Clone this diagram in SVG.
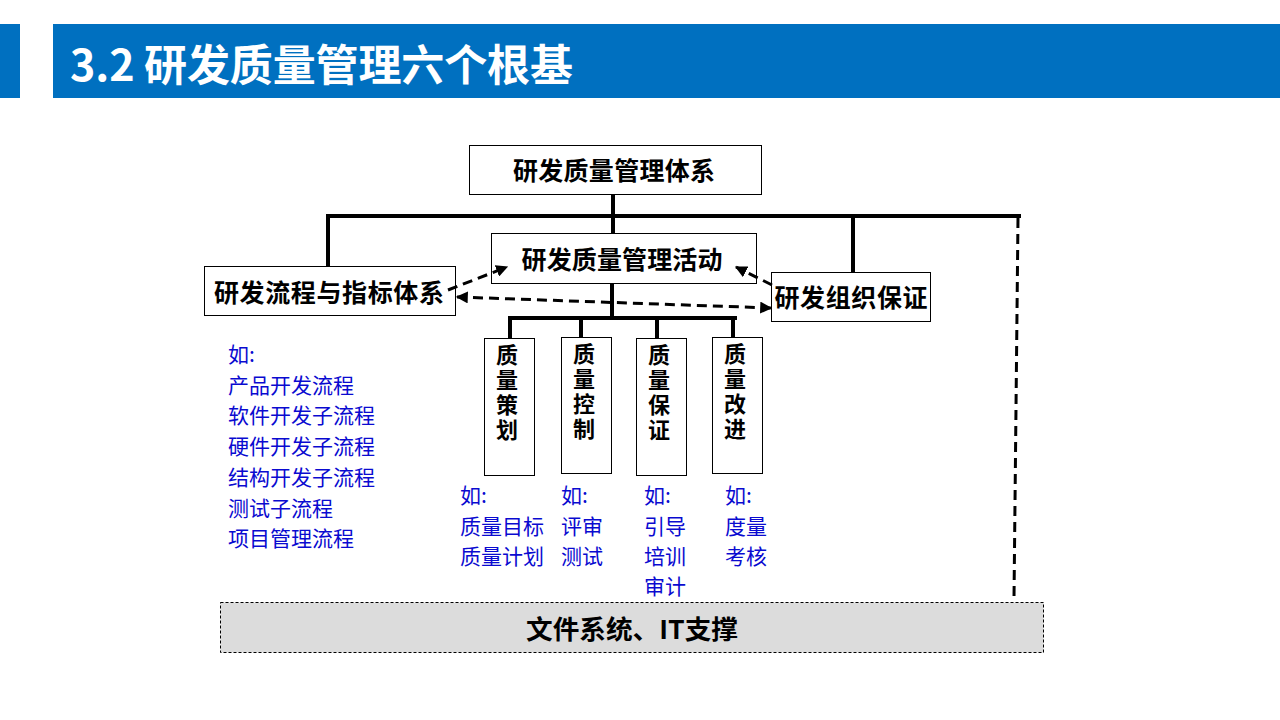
<svg xmlns="http://www.w3.org/2000/svg" width="1280" height="720" viewBox="0 0 1280 720">
<defs>
<marker id="ah" viewBox="0 0 10 10" refX="9" refY="5" markerWidth="4" markerHeight="4" orient="auto-start-reverse" markerUnits="strokeWidth">
<path d="M0,0 L10,5 L0,10 z" fill="#000"/>
</marker>
<style>
.box{fill:#fff;stroke:#000;stroke-width:1}
.bt{font-family:"Noto Sans CJK SC","Noto Sans",sans-serif;font-weight:bold;fill:#000;text-anchor:middle;dominant-baseline:central}
.vt{font-family:"Noto Sans CJK SC","Noto Sans",sans-serif;font-weight:bold;fill:#000;font-size:22px;writing-mode:vertical-rl;letter-spacing:3px}
.blue{font-family:"Noto Sans CJK SC","Noto Sans",sans-serif;fill:#0a0ad0;font-size:21px;dominant-baseline:central}
.ln{stroke:#000;stroke-width:4;fill:none}
.dl{stroke:#000;stroke-width:3;fill:none;stroke-dasharray:10 6}
</style>
</defs>
<rect width="1280" height="720" fill="#fff"/>
<g id="header">
<rect x="0" y="24" width="20" height="74" fill="#0070C0"/>
<rect x="53" y="24" width="1227" height="74" fill="#0070C0"/>
<text x="70" y="62" font-family="'Noto Sans CJK SC','Noto Sans',sans-serif" font-weight="bold" font-size="43" fill="#fff" dominant-baseline="central" textLength="503" lengthAdjust="spacing">3.2 研发质量管理六个根基</text>
</g>
<g id="node-system">
<rect class="box" x="469.5" y="145.5" width="292" height="49"/>
<text class="bt" x="614" y="169" font-size="25" textLength="202" lengthAdjust="spacing">研发质量管理体系</text>
</g>
<g id="node-activity">
<rect class="box" x="491.5" y="233.5" width="265" height="50"/>
<text class="bt" x="622" y="258" font-size="25" textLength="201" lengthAdjust="spacing">研发质量管理活动</text>
</g>
<g id="node-process">
<rect class="box" x="204.5" y="266.5" width="251" height="49"/>
<text class="bt" x="329" y="291" font-size="25" textLength="230" lengthAdjust="spacing">研发流程与指标体系</text>
</g>
<g id="node-org">
<rect class="box" x="771.5" y="272.5" width="159" height="49"/>
<text class="bt" x="851" y="296" font-size="25" textLength="153" lengthAdjust="spacing">研发组织保证</text>
</g>
<g id="node-plan">
<rect class="box" x="484.5" y="338.5" width="50" height="137"/>
<text class="vt" x="507" y="344">质量策划</text>
</g>
<g id="node-control">
<rect class="box" x="561.5" y="337.5" width="50" height="136"/>
<text class="vt" x="584" y="343">质量控制</text>
</g>
<g id="node-assure">
<rect class="box" x="636.5" y="338.5" width="50" height="137"/>
<text class="vt" x="659" y="344">质量保证</text>
</g>
<g id="node-improve">
<rect class="box" x="712.5" y="337.5" width="50" height="136"/>
<text class="vt" x="735" y="343">质量改进</text>
</g>
<g id="notes-process">
<text class="blue"><tspan x="228" y="353">如:</tspan><tspan x="228" y="384">产品开发流程</tspan><tspan x="228" y="414">软件开发子流程</tspan><tspan x="228" y="445">硬件开发子流程</tspan><tspan x="228" y="476">结构开发子流程</tspan><tspan x="228" y="507">测试子流程</tspan><tspan x="228" y="537">项目管理流程</tspan></text>
</g>
<g id="notes-plan">
<text class="blue"><tspan x="460" y="494">如:</tspan><tspan x="460" y="525">质量目标</tspan><tspan x="460" y="555">质量计划</tspan></text>
</g>
<g id="notes-control">
<text class="blue"><tspan x="561" y="494">如:</tspan><tspan x="561" y="525">评审</tspan><tspan x="561" y="555">测试</tspan></text>
</g>
<g id="notes-assure">
<text class="blue"><tspan x="644" y="494">如:</tspan><tspan x="644" y="525">引导</tspan><tspan x="644" y="555">培训</tspan><tspan x="644" y="585">审计</tspan></text>
</g>
<g id="notes-improve">
<text class="blue"><tspan x="725" y="494">如:</tspan><tspan x="725" y="525">度量</tspan><tspan x="725" y="555">考核</tspan></text>
</g>
<g id="node-it">
<rect x="220.5" y="602.5" width="823" height="50" fill="#DCDCDC" stroke="#000" stroke-width="1" stroke-dasharray="3 2"/>
<text class="bt" x="632" y="627" font-size="26" textLength="212" lengthAdjust="spacingAndGlyphs">文件系统、IT支撑</text>
</g>
<g id="connectors">
<line class="ln" x1="613" y1="194" x2="613" y2="233"/>
<line class="ln" x1="326" y1="216" x2="1021" y2="216"/>
<line class="ln" x1="328" y1="216" x2="328" y2="266"/>
<line class="ln" x1="853" y1="216" x2="853" y2="272"/>
<line class="dl" x1="1018" y1="218" x2="1014" y2="598" stroke-width="3.5" stroke-dasharray="18 11"/>
<line class="ln" x1="612" y1="283" x2="612" y2="320"/>
<line class="ln" x1="508" y1="318" x2="737" y2="318"/>
<line class="ln" x1="510" y1="318" x2="510" y2="338"/>
<line class="ln" x1="581" y1="318" x2="581" y2="337"/>
<line class="ln" x1="657" y1="318" x2="657" y2="338"/>
<line class="ln" x1="733" y1="318" x2="733" y2="337"/>
<line class="dl" x1="448" y1="290" x2="507" y2="267" marker-end="url(#ah)"/>
<line class="dl" x1="457" y1="297" x2="771" y2="308" marker-start="url(#ah)" marker-end="url(#ah)"/>
<line class="dl" x1="772" y1="285" x2="736" y2="267" marker-end="url(#ah)"/>
</g>
</svg>
